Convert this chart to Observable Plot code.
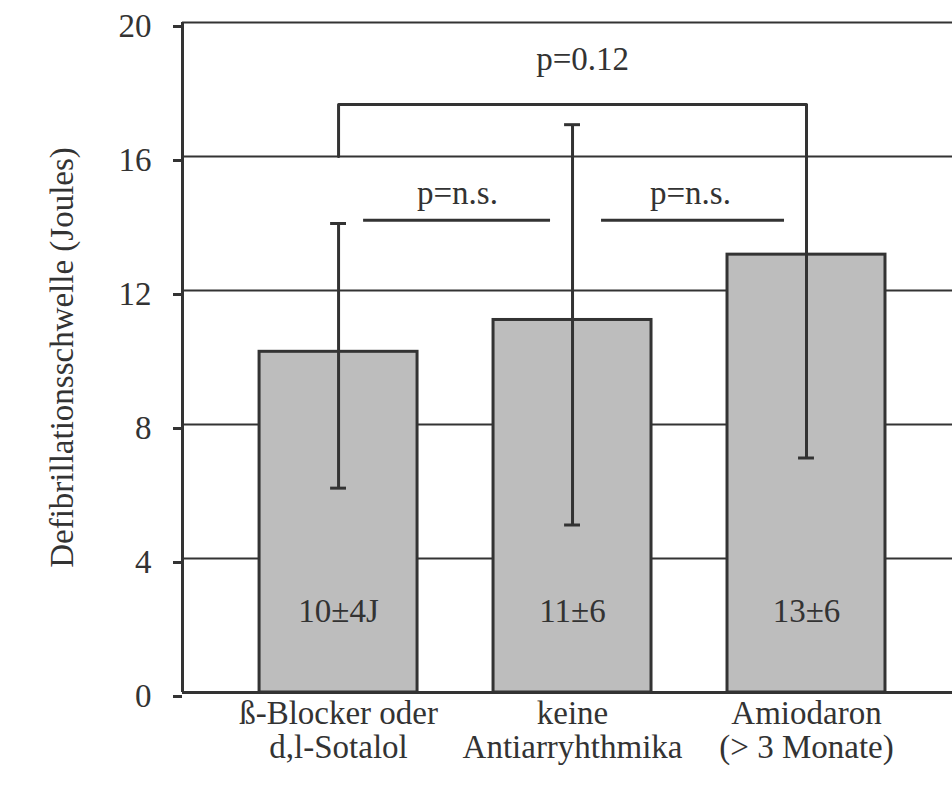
<!DOCTYPE html>
<html>
<head>
<meta charset="utf-8">
<script src="https://cdn.jsdelivr.net/npm/d3@7"></script>
<script src="https://cdn.jsdelivr.net/npm/@observablehq/plot@0.6"></script>
<style>
  html, body { margin: 0; padding: 0; background: #fff; }
</style>
</head>
<body>
<div id="chart"></div>
<script>
// ---- data ----
const categories = ["ß-Blocker oder\nd,l-Sotalol", "keine\nAntiarryhthmika", "Amiodaron\n(> 3 Monate)"];
const means = [10.17, 11.12, 13.07];
const errLow = [6.1, 5.0, 7.0];
const errHigh = [14.0, 16.95, 17.55];
const upperCap = [true, true, false];
const valueLabels = ["10±4J", "11±6", "13±6"];
const valueLabelY = [2.42, 2.42, 2.42];
const yTicks = [0, 4, 8, 12, 16, 20];

// comparison bracket (x in category index units)
const bracketX = [0, 0, 2];
const bracketY = [16, 17.55, 17.55];
const bracketLabel = "p=0.12";
const bracketLabelPos = [1.043, 18.9];

// pairwise comparisons
const pairLabels = ["p=n.s.", "p=n.s."];
const pairX1 = [0.107, 1.124];
const pairX2 = [0.906, 1.906];
const pairLineY = [14.1, 14.1];
const pairLabelX = [0.508, 1.504];
const pairLabelY = [14.9, 14.9];

const yLabel = "Defibrillationsschwelle (Joules)";

// ---- tables built from the arrays ----
const bars = categories.map((c, i) => ({
  i, c, mean: means[i], lo: errLow[i], hi: errHigh[i], cap: upperCap[i],
  label: valueLabels[i], ly: valueLabelY[i]
}));
const bracket = bracketX.map((x, k) => ({x, y: bracketY[k]}));
const pairs = pairLabels.map((l, k) => ({
  l, x1: pairX1[k], x2: pairX2[k], y: pairLineY[k], lx: pairLabelX[k], ly: pairLabelY[k]
}));

const half = 0.3376;   // bar half width in index units
const capHalf = 0.034; // error-bar cap half width
const ink = "#333";
const fs = 33;

const chart = Plot.plot({
  width: 952,
  height: 785,
  marginLeft: 182,
  marginRight: 0,
  marginTop: 22,
  marginBottom: 93,
  style: {fontFamily: "'Liberation Serif', 'Times New Roman', serif", fontSize: fs + "px", color: ink, background: "#fff"},
  x: {type: "linear", domain: [-0.667, 2.624], axis: null},
  y: {domain: [0, 20], axis: null},
  marks: [
    Plot.ruleY(yTicks.filter(t => t > 0), {stroke: ink, strokeWidth: 2}),
    Plot.rect(bars, {x1: d => d.i - half, x2: d => d.i + half, y1: 0, y2: "mean",
      fill: "#bdbdbd", stroke: ink, strokeWidth: 3}),
    Plot.ruleX(bars, {x: "i", y1: "lo", y2: "hi", stroke: ink, strokeWidth: 3}),
    Plot.ruleY(bars, {y: "lo", x1: d => d.i - capHalf, x2: d => d.i + capHalf, stroke: ink, strokeWidth: 3}),
    Plot.ruleY(bars.filter(d => d.cap), {y: "hi", x1: d => d.i - capHalf, x2: d => d.i + capHalf, stroke: ink, strokeWidth: 3}),
    Plot.line(bracket, {x: "x", y: "y", stroke: ink, strokeWidth: 3}),
    Plot.ruleY(pairs, {y: "y", x1: "x1", x2: "x2", stroke: ink, strokeWidth: 3}),
    Plot.text(pairs, {x: "lx", y: "ly", text: "l", fill: ink, fontSize: fs}),
    Plot.text([bracketLabel], {x: bracketLabelPos[0], y: bracketLabelPos[1], text: d => d, fill: ink, fontSize: fs}),
    Plot.text(bars, {x: "i", y: "ly", text: "label", fill: ink, fontSize: fs}),
    Plot.ruleY([0], {stroke: ink, strokeWidth: 3}),
    Plot.ruleX([-0.667], {y1: 0, y2: 20, stroke: ink, strokeWidth: 3}),
    Plot.axisY(yTicks, {anchor: "left", tickSize: 9, tickPadding: 22, strokeWidth: 3, stroke: ink, fill: ink, fontSize: fs, dy: 4}),
    Plot.axisX([0, 1, 2], {anchor: "bottom", tickSize: 0, tickPadding: 7, tickFormat: i => categories[i], fill: ink, fontSize: fs, lineHeight: 1.03}),
    Plot.text([yLabel], {frameAnchor: "left", textAnchor: "middle", text: d => d, rotate: -90, dx: -120, fill: ink, fontSize: fs})
  ]
});
document.getElementById("chart").appendChild(chart);
</script>
</body>
</html>
